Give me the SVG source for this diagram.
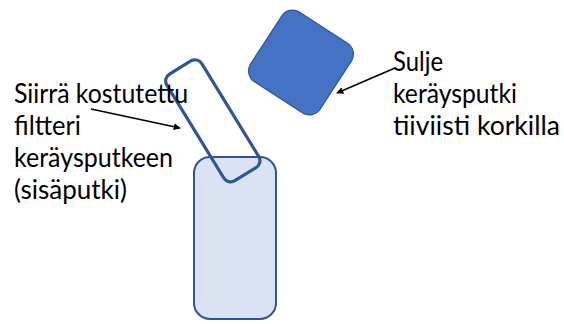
<svg xmlns="http://www.w3.org/2000/svg" width="564" height="324" viewBox="0 0 564 324">
  <defs>
    <marker id="arrow" viewBox="0 0 10 10" refX="9" refY="5" markerWidth="7" markerHeight="7" markerUnits="userSpaceOnUse" orient="auto">
      <path d="M0,0 L10,5 L0,10 z" fill="#000"/>
    </marker>
    <style>
      .label { font-family: Lato, "Liberation Sans", Arial, sans-serif; font-size: 27px; fill: #000; }
      .conn { stroke: #000; stroke-width: 1.6; fill: none; marker-end: url(#arrow); }
      .tube { fill: #DAE3F3; stroke: #2F5597; stroke-width: 2; }
      .filter { fill: none; stroke: #2F5597; stroke-width: 3.2; }
      .cap { fill: #4472C4; stroke: #2F5597; stroke-width: 1.2; }
    </style>
  </defs>
  <rect width="564" height="324" fill="#fff"/>

  <g id="tube">
    <rect class="tube" x="194" y="157" width="82" height="162" rx="16"/>
  </g>

  <g id="filter">
    <rect class="filter" x="-20.5" y="-62.5" width="41" height="125" rx="8" transform="translate(212.8,120.8) rotate(-31.5)"/>
  </g>

  <g id="cap">
    <rect class="cap" x="-41.5" y="-41.5" width="83" height="83" rx="13" transform="translate(301,62.5) rotate(33)"/>
  </g>

  <g id="label-left">
    <text class="label" x="14" y="103" textLength="174" lengthAdjust="spacingAndGlyphs">Siirrä kostutettu</text>
    <text class="label" x="14" y="135" textLength="67" lengthAdjust="spacingAndGlyphs">filtteri</text>
    <text class="label" x="14" y="167" textLength="159" lengthAdjust="spacingAndGlyphs">keräysputkeen</text>
    <text class="label" x="14" y="199" textLength="113" lengthAdjust="spacingAndGlyphs">(sisäputki)</text>
  </g>

  <g id="label-right">
    <text class="label" x="393" y="71" textLength="50" lengthAdjust="spacingAndGlyphs">Sulje</text>
    <text class="label" x="393" y="103" textLength="124" lengthAdjust="spacingAndGlyphs">keräysputki</text>
    <text class="label" x="393" y="135" textLength="167" lengthAdjust="spacingAndGlyphs">tiiviisti korkilla</text>
  </g>

  <g id="connectors">
    <line class="conn" x1="91" y1="109" x2="180" y2="128"/>
    <line class="conn" x1="395" y1="68" x2="337" y2="93"/>
  </g>
</svg>
